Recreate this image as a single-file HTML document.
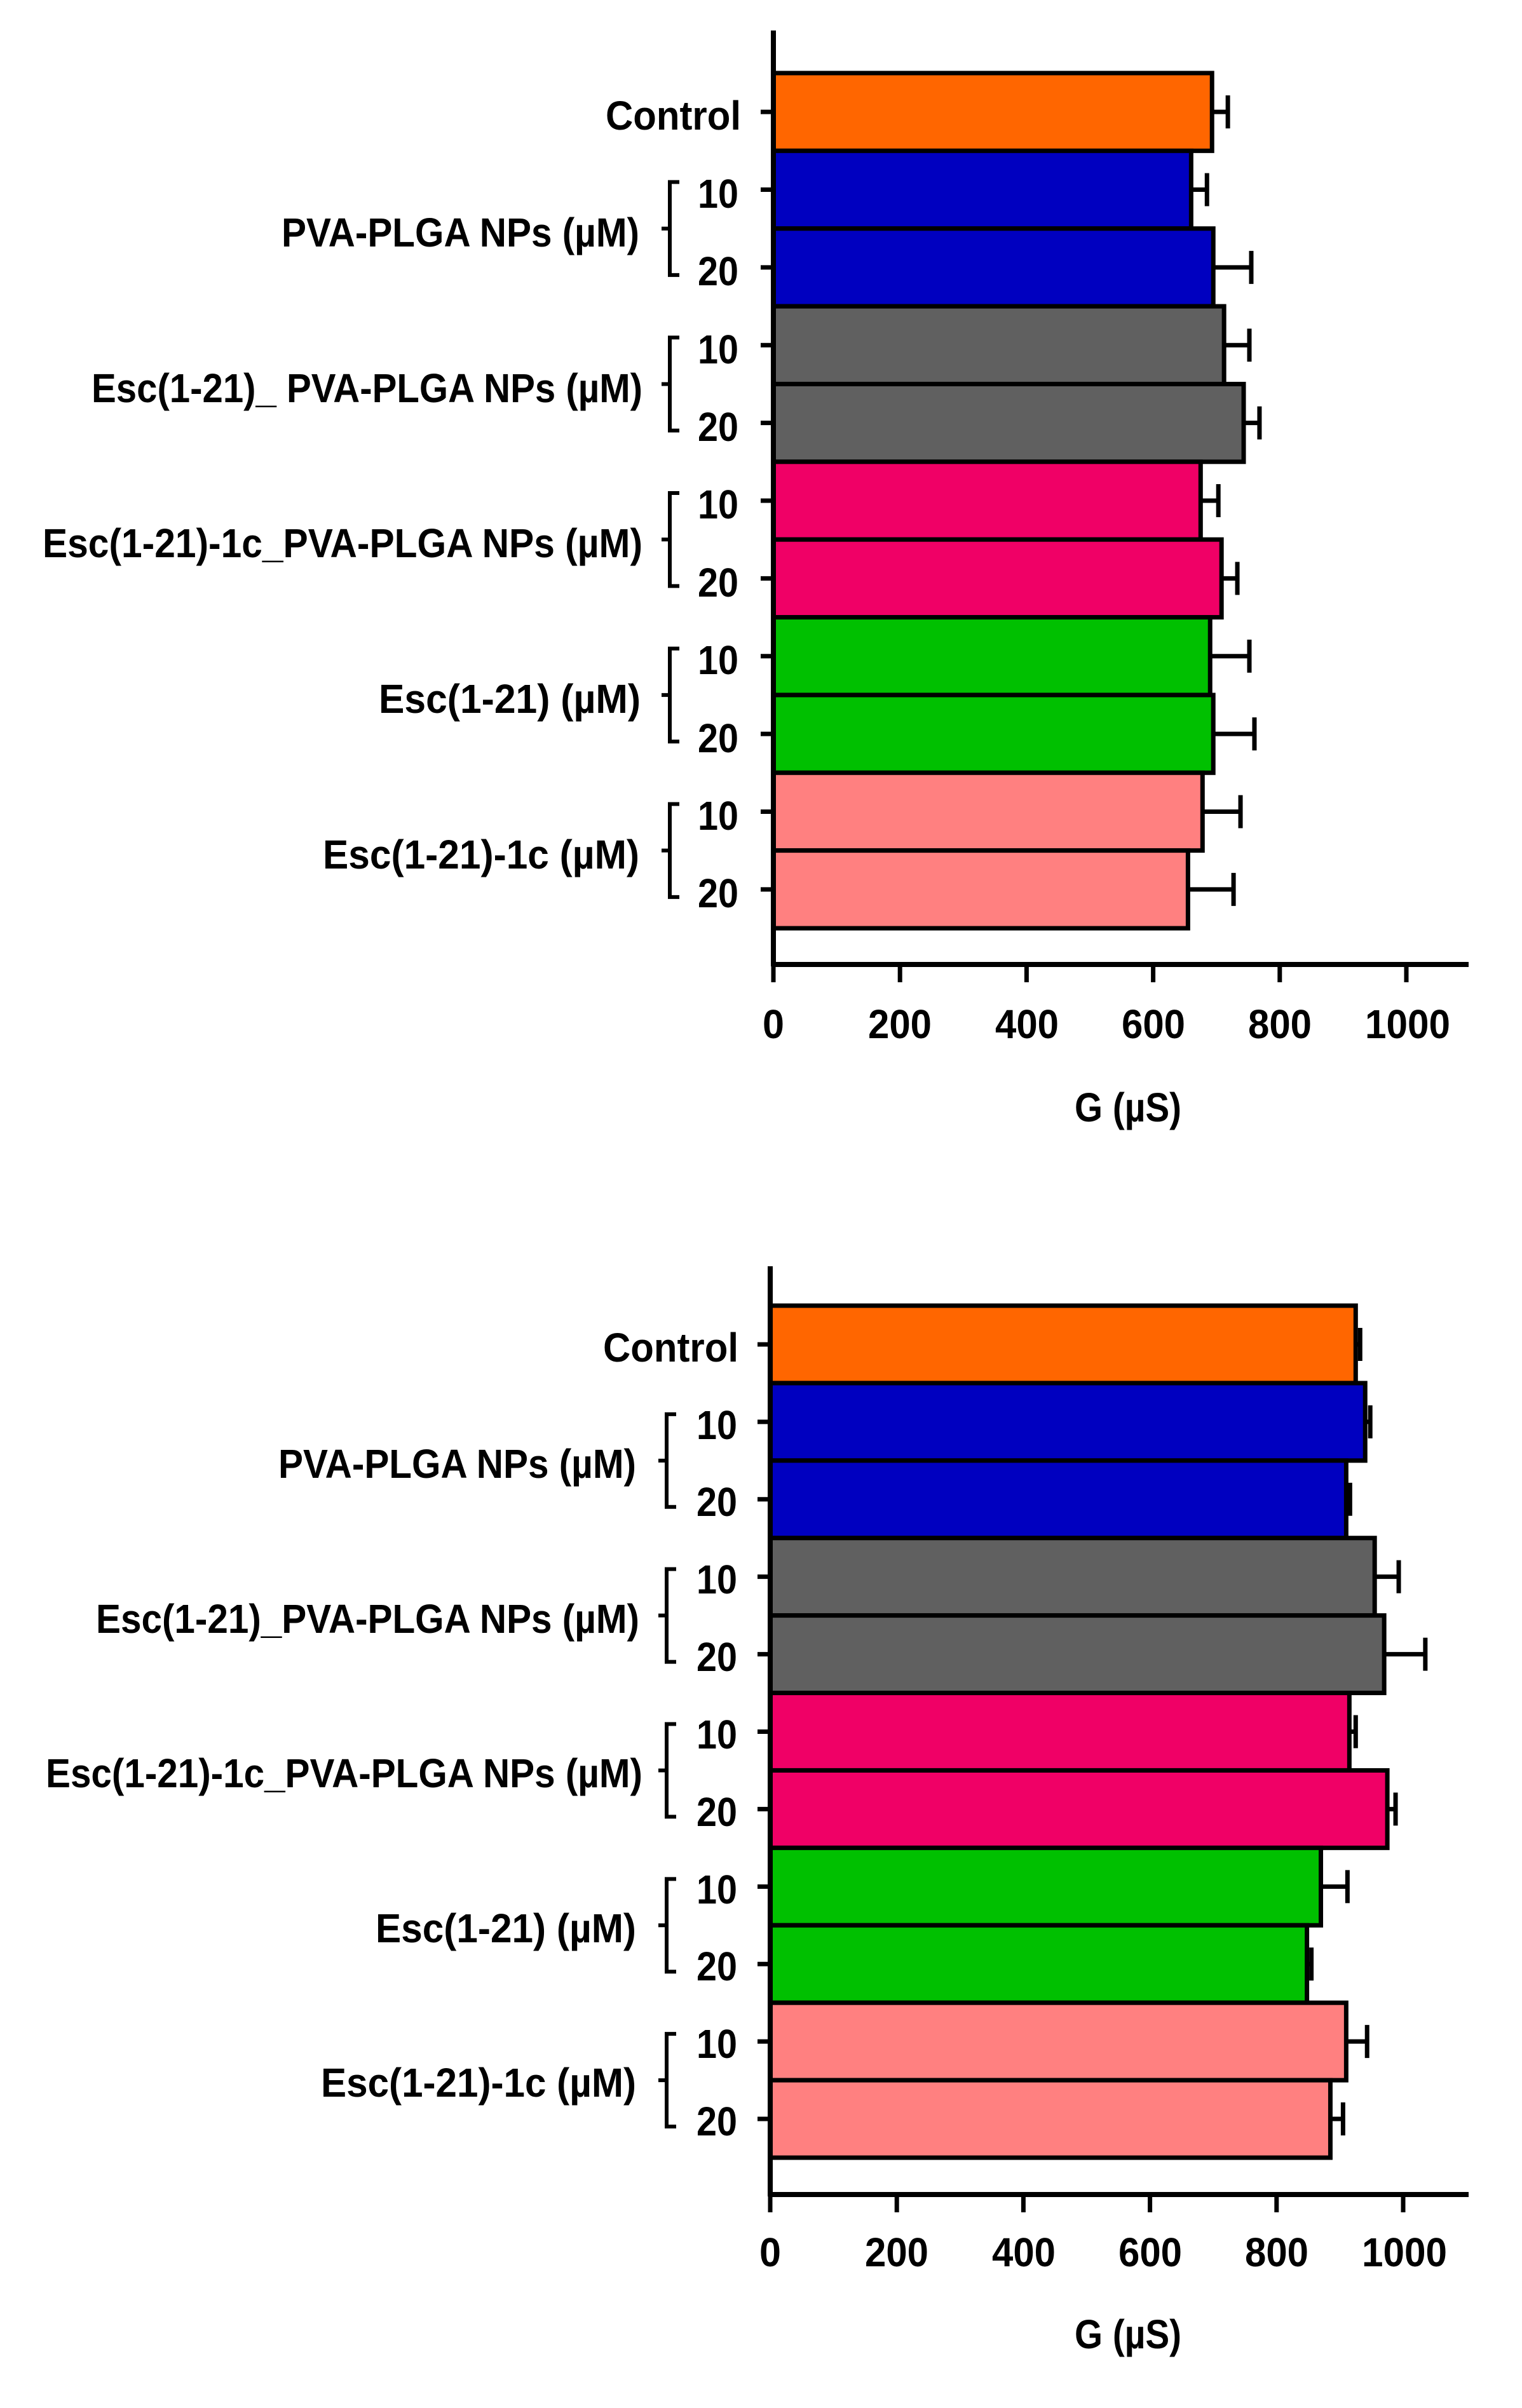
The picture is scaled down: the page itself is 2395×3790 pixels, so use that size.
<!DOCTYPE html>
<html><head><meta charset="utf-8"><style>
html,body{margin:0;padding:0;background:#fff;}
svg{display:block;}
text{font-family:"Liberation Sans",sans-serif;font-weight:bold;fill:#000;}
</style></head><body>
<svg id="s" width="2395" height="3790" viewBox="0 0 2395 3790" xmlns="http://www.w3.org/2000/svg">
<g id="c1"></g><g id="c2"></g>
<g font-size="64">
<text x="1166" y="204" text-anchor="end" textLength="213" lengthAdjust="spacingAndGlyphs">Control</text>
<text x="1006" y="388" text-anchor="end" textLength="563" lengthAdjust="spacingAndGlyphs">PVA-PLGA NPs (µM)</text>
<text x="1011" y="633" text-anchor="end" textLength="867" lengthAdjust="spacingAndGlyphs">Esc(1-21)_ PVA-PLGA NPs (µM)</text>
<text x="1011" y="877" text-anchor="end" textLength="944" lengthAdjust="spacingAndGlyphs">Esc(1-21)-1c_PVA-PLGA NPs (µM)</text>
<text x="1008" y="1122" text-anchor="end" textLength="412" lengthAdjust="spacingAndGlyphs">Esc(1-21) (µM)</text>
<text x="1006" y="1367" text-anchor="end" textLength="498" lengthAdjust="spacingAndGlyphs">Esc(1-21)-1c (µM)</text>
<text x="1162" y="327" text-anchor="end" textLength="64" lengthAdjust="spacingAndGlyphs">10</text>
<text x="1162" y="449" text-anchor="end" textLength="64" lengthAdjust="spacingAndGlyphs">20</text>
<text x="1162" y="572" text-anchor="end" textLength="64" lengthAdjust="spacingAndGlyphs">10</text>
<text x="1162" y="694" text-anchor="end" textLength="64" lengthAdjust="spacingAndGlyphs">20</text>
<text x="1162" y="816" text-anchor="end" textLength="64" lengthAdjust="spacingAndGlyphs">10</text>
<text x="1162" y="939" text-anchor="end" textLength="64" lengthAdjust="spacingAndGlyphs">20</text>
<text x="1162" y="1061" text-anchor="end" textLength="64" lengthAdjust="spacingAndGlyphs">10</text>
<text x="1162" y="1184" text-anchor="end" textLength="64" lengthAdjust="spacingAndGlyphs">20</text>
<text x="1162" y="1306" text-anchor="end" textLength="64" lengthAdjust="spacingAndGlyphs">10</text>
<text x="1162" y="1428" text-anchor="end" textLength="64" lengthAdjust="spacingAndGlyphs">20</text>
<text x="1217" y="1634" text-anchor="middle" textLength="34" lengthAdjust="spacingAndGlyphs">0</text>
<text x="1416" y="1634" text-anchor="middle" textLength="100" lengthAdjust="spacingAndGlyphs">200</text>
<text x="1616" y="1634" text-anchor="middle" textLength="100" lengthAdjust="spacingAndGlyphs">400</text>
<text x="1815" y="1634" text-anchor="middle" textLength="100" lengthAdjust="spacingAndGlyphs">600</text>
<text x="2014" y="1634" text-anchor="middle" textLength="100" lengthAdjust="spacingAndGlyphs">800</text>
<text x="2215" y="1634" text-anchor="middle" textLength="134" lengthAdjust="spacingAndGlyphs">1000</text>
<text x="1775" y="1765" text-anchor="middle" textLength="168" lengthAdjust="spacingAndGlyphs">G (µS)</text>
</g>
<g font-size="64">
<text x="1162" y="2143" text-anchor="end" textLength="213" lengthAdjust="spacingAndGlyphs">Control</text>
<text x="1001" y="2326" text-anchor="end" textLength="563" lengthAdjust="spacingAndGlyphs">PVA-PLGA NPs (µM)</text>
<text x="1006" y="2570" text-anchor="end" textLength="855" lengthAdjust="spacingAndGlyphs">Esc(1-21)_PVA-PLGA NPs (µM)</text>
<text x="1011" y="2813" text-anchor="end" textLength="939" lengthAdjust="spacingAndGlyphs">Esc(1-21)-1c_PVA-PLGA NPs (µM)</text>
<text x="1001" y="3057" text-anchor="end" textLength="410" lengthAdjust="spacingAndGlyphs">Esc(1-21) (µM)</text>
<text x="1001" y="3300" text-anchor="end" textLength="496" lengthAdjust="spacingAndGlyphs">Esc(1-21)-1c (µM)</text>
<text x="1160" y="2265" text-anchor="end" textLength="64" lengthAdjust="spacingAndGlyphs">10</text>
<text x="1160" y="2386" text-anchor="end" textLength="64" lengthAdjust="spacingAndGlyphs">20</text>
<text x="1160" y="2508" text-anchor="end" textLength="64" lengthAdjust="spacingAndGlyphs">10</text>
<text x="1160" y="2630" text-anchor="end" textLength="64" lengthAdjust="spacingAndGlyphs">20</text>
<text x="1160" y="2752" text-anchor="end" textLength="64" lengthAdjust="spacingAndGlyphs">10</text>
<text x="1160" y="2874" text-anchor="end" textLength="64" lengthAdjust="spacingAndGlyphs">20</text>
<text x="1160" y="2996" text-anchor="end" textLength="64" lengthAdjust="spacingAndGlyphs">10</text>
<text x="1160" y="3117" text-anchor="end" textLength="64" lengthAdjust="spacingAndGlyphs">20</text>
<text x="1160" y="3239" text-anchor="end" textLength="64" lengthAdjust="spacingAndGlyphs">10</text>
<text x="1160" y="3361" text-anchor="end" textLength="64" lengthAdjust="spacingAndGlyphs">20</text>
<text x="1212" y="3567" text-anchor="middle" textLength="34" lengthAdjust="spacingAndGlyphs">0</text>
<text x="1411" y="3567" text-anchor="middle" textLength="100" lengthAdjust="spacingAndGlyphs">200</text>
<text x="1611" y="3567" text-anchor="middle" textLength="100" lengthAdjust="spacingAndGlyphs">400</text>
<text x="1810" y="3567" text-anchor="middle" textLength="100" lengthAdjust="spacingAndGlyphs">600</text>
<text x="2009" y="3567" text-anchor="middle" textLength="100" lengthAdjust="spacingAndGlyphs">800</text>
<text x="2210" y="3567" text-anchor="middle" textLength="134" lengthAdjust="spacingAndGlyphs">1000</text>
<text x="1775" y="3696" text-anchor="middle" textLength="168" lengthAdjust="spacingAndGlyphs">G (µS)</text>
</g>
</svg>
<script>
var NS="http://www.w3.org/2000/svg";
var cols=["#FF6600","#0000C0","#0000C0","#606060","#606060","#F00066","#F00066","#00C000","#00C000","#FF8080","#FF8080"];
function el(g,t,a){var e=document.createElementNS(NS,t);for(var k in a)e.setAttribute(k,a[k]);g.appendChild(e);return e;}
function chart(id,ax,top,barTop,barBot,axisY,k,vals,errs){
  var g=document.getElementById(id);
  var h=(barBot-barTop)/11;
  for(var i=0;i<11;i++){
    var y=barTop+i*h, c=y+h/2, x2=ax+vals[i]*k, xe=ax+errs[i]*k;
    el(g,"line",{x1:x2,y1:c,x2:xe,y2:c,stroke:"#000","stroke-width":7});
    el(g,"line",{x1:xe,y1:c-26,x2:xe,y2:c+26,stroke:"#000","stroke-width":7});
    el(g,"rect",{x:ax,y:y,width:vals[i]*k,height:h,fill:cols[i],stroke:"#000","stroke-width":7});
    el(g,"line",{x1:ax-20,y1:c,x2:ax,y2:c,stroke:"#000","stroke-width":7});
  }
  for(var j=0;j<5;j++){
    var c1=barTop+(1+2*j+0.5)*h, c2=c1+h, m=(c1+c2)/2;
    el(g,"path",{d:"M"+(ax-148)+","+(c1-12)+"H"+(ax-163)+"V"+(c2+12)+"H"+(ax-148)+"M"+(ax-163)+","+m+"H"+(ax-176),fill:"none",stroke:"#000","stroke-width":6});
  }
  el(g,"line",{x1:ax,y1:top,x2:ax,y2:axisY+3,stroke:"#000","stroke-width":8});
  el(g,"line",{x1:ax-3,y1:axisY,x2:2311,y2:axisY,stroke:"#000","stroke-width":8});
  for(var t=0;t<=1000;t+=200){var x=ax+t*k;el(g,"line",{x1:x,y1:axisY,x2:x,y2:axisY+28,stroke:"#000","stroke-width":7});}
}
chart("c1",1217,48,115,1461,1518,0.996,
 [693,660,695,712,743,675,708,690,695,678,655],
 [718,685,755,752,768,703,733,752,760,738,727]);
chart("c2",1212,1993,2055,3396,3454,0.996,
 [925,940,910,955,970,915,975,870,848,910,885],
 [932,948,916,993,1035,925,988,912,855,943,905]);
</script>
</body></html>
